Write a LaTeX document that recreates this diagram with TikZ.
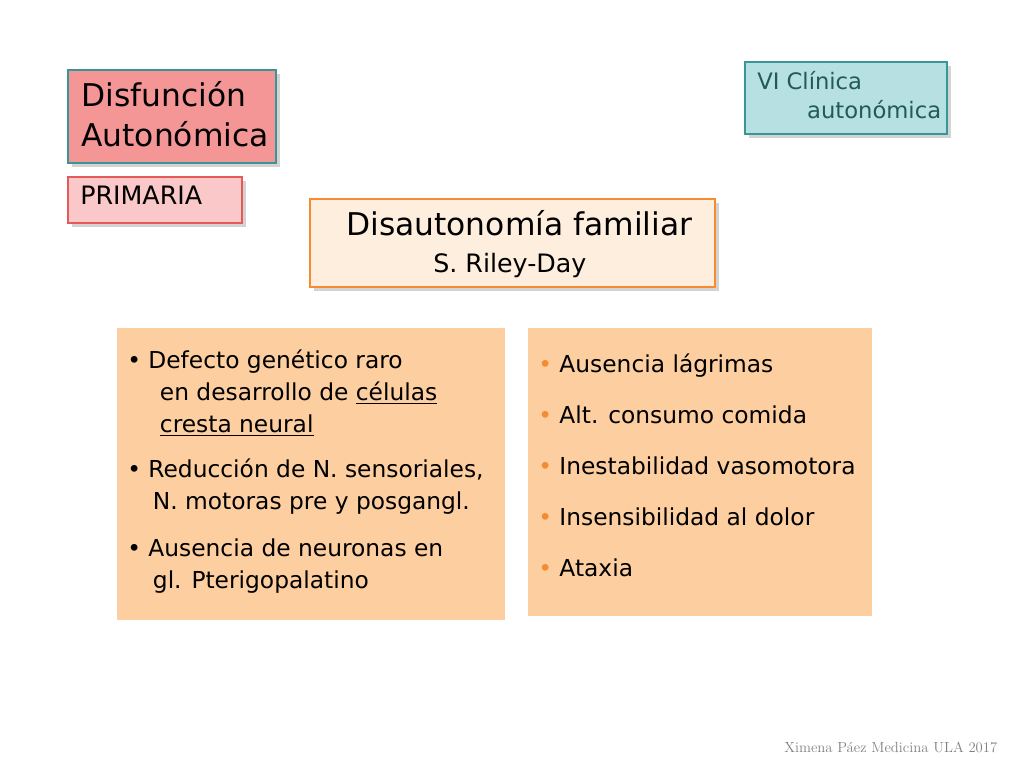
\documentclass[tikz,border=0pt]{standalone}
\usepackage{fontspec}
\setmainfont{DejaVu Sans}
\usetikzlibrary{positioning,shadows}
\definecolor{teal}{RGB}{56,150,150}
\definecolor{rose}{RGB}{245,150,150}
\definecolor{paleRose}{RGB}{250,200,200}
\definecolor{redline}{RGB}{230,90,90}
\definecolor{paleTeal}{RGB}{182,224,226}
\definecolor{orangeline}{RGB}{245,140,50}
\definecolor{peach}{RGB}{252,206,160}
\definecolor{cream}{RGB}{254,238,222}
\begin{document}
\begin{tikzpicture}[x=0.75pt,y=-0.75pt,
    titlebox/.style={draw=teal, line width=1.5pt, fill=rose, drop shadow={opacity=0.35}},
    tagbox/.style={draw=redline, line width=1.5pt, fill=paleRose, drop shadow={opacity=0.35}},
    notebox/.style={draw=teal, line width=1.5pt, fill=paleTeal, drop shadow={opacity=0.35}},
    namebox/.style={draw=orangeline, line width=1.5pt, fill=cream, drop shadow={opacity=0.35}},
    listbox/.style={fill=peach},
    txt/.style={anchor=north west, align=left, inner sep=0pt, font=\fontsize{17.5}{24}\selectfont}
]
    \useasboundingbox (0,0) rectangle (1024,768);
    % Boxes
    \draw[titlebox] (68,70) rectangle (276,163);
    \draw[tagbox] (68,177) rectangle (242,223);
    \draw[notebox] (745,62) rectangle (947,134);
    \draw[namebox] (310,199) rectangle (715,287);
    \fill[listbox] (117,328) rectangle (505,620);
    \fill[listbox] (528,328) rectangle (872,616);

    % Titles
    \node[txt, font=\fontsize{23.5}{30}\selectfont] (title) at (81,81) {Disfunción\\Autonómica};
    \node[txt, font=\fontsize{19}{20}\selectfont] (prim) at (80,186) {PRIMARIA};
    \node[txt, font=\fontsize{17}{22}\selectfont, text=teal!60!black] (clinic) at (757,71) {VI Clínica\\\hspace{2.2em}autonómica};
    \node[txt, font=\fontsize{23.5}{28}\selectfont] (fam) at (346,210) {Disautonomía familiar};
    \node[txt, font=\fontsize{19}{20}\selectfont] (riley) at (433,253) {S. Riley-Day};

    % Left list
    \node[txt] (gen) at (127,350) {• Defecto genético raro\\\hspace{1.4em}en desarrollo de \underline{células}\\\hspace{1.4em}\underline{cresta neural}};
    \node[txt] (red) at (127,459) {• Reducción de N. sensoriales,\\\hspace{1.1em}N. motoras pre y posgangl.};
    \node[txt] (aus) at (127,538) {• Ausencia de neuronas en\\\hspace{1.1em}gl. Pterigopalatino};

    % Right list
    \foreach \t [count=\i] in {Ausencia lágrimas, Alt. consumo comida, Inestabilidad vasomotora, Insensibilidad al dolor, Ataxia}
        \node[txt] (sym\i) at (538,{354+(\i-1)*51}) {{\color{orangeline}•} \t};

    % Footer
    \node[anchor=east, text=gray, font=\fontfamily{lmr}\selectfont\fontsize{11}{13}\selectfont] (foot) at (1002,747) {Ximena Páez Medicina ULA 2017};
\end{tikzpicture}
\end{document}
